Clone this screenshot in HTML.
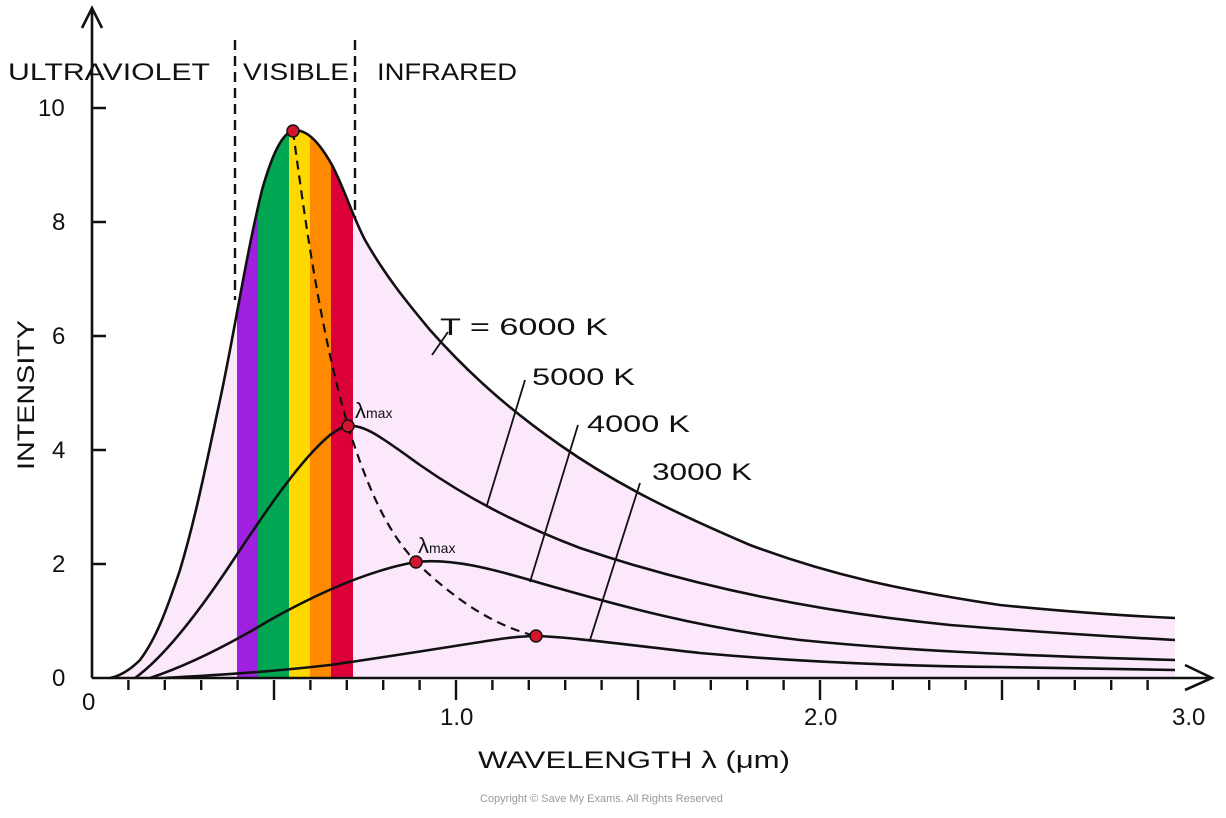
<!DOCTYPE html>
<html><head><style>
body{margin:0;background:#fff;}
svg text{font-family:"Liberation Sans",sans-serif;fill:#111;}
</style></head><body>
<svg width="1226" height="813" viewBox="0 0 1226 813" xmlns="http://www.w3.org/2000/svg">
<defs>
<clipPath id="c6"><path d="M110,678 C120,676 130,670 140,660 C155,640 165,615 180,570 C195,520 205,470 220,400 C235,330 245,260 262,190 C272,155 282,133 293,131 C305,128 318,140 332,165 C345,190 352,215 365,240 C385,275 405,300 430,330 C470,375 510,410 560,445 C620,487 680,515 750,545 C830,575 900,590 1000,605 C1080,613 1130,616 1175,618 L1175,678 Z"/></clipPath>
</defs>
<path d="M110,678 C120,676 130,670 140,660 C155,640 165,615 180,570 C195,520 205,470 220,400 C235,330 245,260 262,190 C272,155 282,133 293,131 C305,128 318,140 332,165 C345,190 352,215 365,240 C385,275 405,300 430,330 C470,375 510,410 560,445 C620,487 680,515 750,545 C830,575 900,590 1000,605 C1080,613 1130,616 1175,618 L1175,678 Z" fill="#fce8fb"/>
<g clip-path="url(#c6)">
<rect x="237" y="100" width="21" height="578" fill="#a020e0"/>
<rect x="258" y="100" width="31" height="578" fill="#00a651"/>
<rect x="289" y="100" width="21" height="578" fill="#ffd800"/>
<rect x="310" y="100" width="21" height="578" fill="#ff8a00"/>
<rect x="331" y="100" width="22" height="578" fill="#dc0038"/>
</g>
<g fill="none" stroke="#111" stroke-width="2.6">
<path d="M110,678 C120,676 130,670 140,660 C155,640 165,615 180,570 C195,520 205,470 220,400 C235,330 245,260 262,190 C272,155 282,133 293,131 C305,128 318,140 332,165 C345,190 352,215 365,240 C385,275 405,300 430,330 C470,375 510,410 560,445 C620,487 680,515 750,545 C830,575 900,590 1000,605 C1080,613 1130,616 1175,618"/>
<path d="M135,678 C160,660 190,625 230,565 C265,512 300,460 330,435 C340,428 345,426 348,426 C365,424 385,440 420,465 C470,500 520,525 580,548 C680,582 800,610 950,625 C1050,633 1120,637 1175,640"/>
<path d="M150,678 C180,668 220,650 270,620 C320,592 370,570 416,562 C450,558 490,568 540,583 C620,606 700,628 800,640 C900,650 1000,655 1175,660"/>
<path d="M165,678 C200,676 260,673 330,665 C400,655 460,645 500,639 C515,637 525,636 536,636 C570,637 620,644 700,653 C800,662 900,666 1000,667 C1080,668 1130,669 1175,670"/>
<path d="M293,131 C305,220 320,330 348,426 C365,480 385,530 416,562 C450,595 490,625 536,636" stroke-dasharray="9,6" stroke-width="2.2"/>
<path d="M235,40 L235,300" stroke-dasharray="10,6" stroke-width="2.4"/>
<path d="M355,40 L355,218" stroke-dasharray="10,6" stroke-width="2.4"/>
<path d="M92,678 L92,10 M82,28 L92,8 L102,28"/>
<path d="M92,678 L1210,678 M1185,665 L1212,678 L1185,690"/>
<path d="M92,108 L106,108 M92,222 L106,222 M92,336 L106,336 M92,450 L106,450 M92,564 L106,564"/>
<path d="M432,355 L448,332 M487,505 L525,380 M530,582 L578,425 M590,640 L640,483" stroke-width="1.8"/>
</g>
<g stroke="#111" stroke-width="2.4">
<path id="tk" d=""/>
</g>
<g fill="#d4132e" stroke="#111" stroke-width="1.5">
<circle cx="293" cy="131" r="6"/><circle cx="348" cy="426" r="6"/><circle cx="416" cy="562" r="6"/><circle cx="536" cy="636" r="6"/>
</g>
<g font-size="24">
<text x="8" y="80" textLength="202" lengthAdjust="spacingAndGlyphs">ULTRAVIOLET</text>
<text x="243" y="80" textLength="106" lengthAdjust="spacingAndGlyphs">VISIBLE</text>
<text x="377" y="80" textLength="140" lengthAdjust="spacingAndGlyphs">INFRARED</text>
<text x="38" y="116">10</text><text x="52" y="230">8</text><text x="52" y="344">6</text><text x="52" y="458">4</text><text x="52" y="572">2</text><text x="52" y="686">0</text>
<text x="82" y="710">0</text><text x="440" y="725">1.0</text><text x="804" y="725">2.0</text><text x="1172" y="725">3.0</text>
<text x="440" y="335" textLength="168" lengthAdjust="spacingAndGlyphs">T = 6000 K</text>
<text x="532" y="385" textLength="103" lengthAdjust="spacingAndGlyphs">5000 K</text>
<text x="587" y="432" textLength="103" lengthAdjust="spacingAndGlyphs">4000 K</text>
<text x="652" y="480" textLength="100" lengthAdjust="spacingAndGlyphs">3000 K</text>
<text x="478" y="768" textLength="312" lengthAdjust="spacingAndGlyphs">WAVELENGTH  λ  (μm)</text>
<text transform="translate(34,470) rotate(-90)" textLength="150" lengthAdjust="spacingAndGlyphs">INTENSITY</text>
</g>
<text x="355" y="418" font-size="22">λ<tspan font-size="14">max</tspan></text>
<text x="418" y="553" font-size="22">λ<tspan font-size="14">max</tspan></text>
<text x="480" y="802" font-size="11" style="fill:#999">Copyright © Save My Exams. All Rights Reserved</text>
<script>
var d="";for(var i=1;i<30;i++){var x=92+i*36.4;var L=(i%5==0)?20:10;d+="M"+x.toFixed(1)+",680 L"+x.toFixed(1)+","+(680+L)+" ";}
document.getElementById("tk").setAttribute("d",d);
</script>
</svg>
</body></html>
